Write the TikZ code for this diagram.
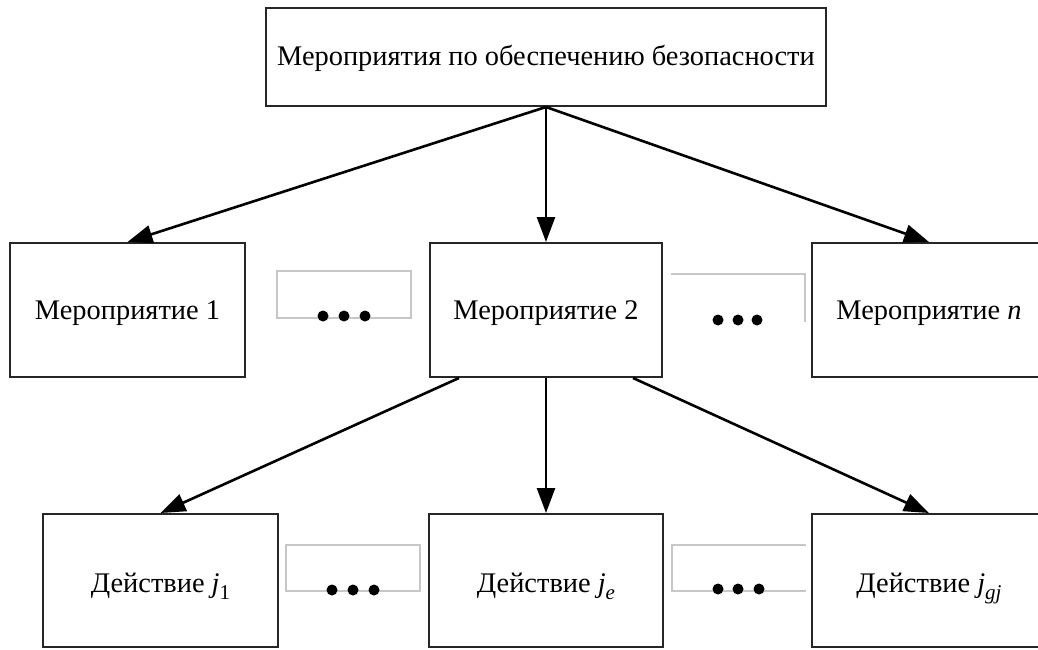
\documentclass[tikz,border=0pt]{standalone}
\usepackage{fontspec}
\setmainfont{Liberation Serif}
\usetikzlibrary{arrows.meta,calc}
\newcommand{\subj}[1]{\textit{j}\raisebox{-0.25em}{\fontsize{21pt}{24pt}\selectfont #1}}
\begin{document}
\begin{tikzpicture}[x=1pt,y=-1pt,
  box/.style={draw=black!85,line width=2pt,fill=white,rectangle,inner sep=0pt,
    font=\fontsize{28.4pt}{32pt}\selectfont,text height=25pt,text depth=7pt},
  lowbox/.style={box,text height=28pt,text depth=4pt},
  conn/.style={line width=2.6pt,-{Triangle[length=25pt,width=18pt]}},
  dotbox/.style={draw=black!22,line width=2pt},
  dotfill/.style={fill=black}]
\useasboundingbox (0,0) rectangle (1038,650);
\node[box,minimum width=560pt,minimum height=98pt] (top) at (546,57) {Мероприятия по обеспечению безопасности};
\node[box,minimum width=235pt,minimum height=134pt] (r2a) at (127.5,310) {Мероприятие 1};
\node[box,minimum width=232pt,minimum height=134pt] (r2b) at (546,310) {Мероприятие 2};
\node[box,minimum width=234pt,minimum height=134pt] (r2c) at (929,310) {Мероприятие \textit{n}};
\node[lowbox,minimum width=235pt,minimum height=133pt] (r3a) at (160.5,580.5) {Действие \subj{1}};
\node[lowbox,minimum width=234pt,minimum height=133pt] (r3b) at (546,580.5) {Действие \subj{\textit{e}}};
\node[lowbox,minimum width=234pt,minimum height=133pt] (r3c) at (929,580.5) {Действие \subj{\textit{gj}}};
% dots boxes
\draw[dotbox] (277,271) rectangle (411,318);
\draw[dotbox] (671,274) -- (805,274) -- (805,322);
\draw[dotbox] (286,545) rectangle (420,591);
\draw[dotbox] (806,545) -- (672,545) -- (672,591) -- (806,591);
\foreach \x in {323,344,365} \fill[dotfill] (\x,316) circle (5.5);
\foreach \x in {718,738,757} \fill[dotfill] (\x,320) circle (5.5);
\foreach \x in {332,353,374} \fill[dotfill] (\x,590) circle (5.5);
\foreach \x in {718,738,759} \fill[dotfill] (\x,589) circle (5.5);
% connectors
\draw[conn] (top.south) -- (r2a.north);
\draw[conn] (top.south) -- (r2b.north);
\draw[conn] (top.south) -- (r2c.north);
\draw[conn] (r2b.218) -- (r3a.north);
\draw[conn] (r2b.south) -- (r3b.north);
\draw[conn] (r2b.322) -- (r3c.north);
\end{tikzpicture}
\end{document}
